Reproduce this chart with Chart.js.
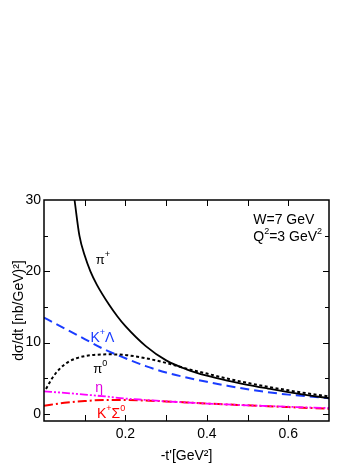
<!DOCTYPE html>
<html>
<head>
<meta charset="utf-8">
<script src="https://cdn.jsdelivr.net/npm/chart.js@4"></script>
<style>
  html, body { margin: 0; padding: 0; background: #fff; }
  #wrap { width: 361px; height: 468px; }
</style>
</head>
<body>
<div id="wrap"><canvas id="chart" width="361" height="468"></canvas></div>
<script>
// values, -t' in GeV^2
var tPiPlus = [0.075, 0.087, 0.1, 0.114, 0.13, 0.16, 0.18, 0.2, 0.25, 0.3, 0.35, 0.4, 0.45, 0.5, 0.55, 0.6, 0.65, 0.7];
var piPlus  = [30, 25, 22.2, 20, 18.1, 15.3, 13.7, 12.3, 9.5, 7.5, 6.25, 5.35, 4.65, 4.07, 3.55, 3.05, 2.6, 2.2];

var tPiZero = [0.005, 0.02, 0.04, 0.06, 0.08, 0.1, 0.13, 0.16, 0.2, 0.25, 0.3, 0.35, 0.4, 0.45, 0.5, 0.55, 0.6, 0.65, 0.7];
var piZero  = [3.5, 5.0, 6.4, 7.3, 7.8, 8.1, 8.3, 8.35, 8.25, 7.8, 7.15, 6.35, 5.65, 4.95, 4.35, 3.8, 3.3, 2.85, 2.45];

var tGrid   = [0, 0.05, 0.1, 0.15, 0.2, 0.25, 0.3, 0.35, 0.4, 0.45, 0.5, 0.55, 0.6, 0.65, 0.7];
var kLambda = [13.5, 12.0, 10.5, 9.0, 7.8, 6.7, 5.8, 5.1, 4.5, 3.95, 3.45, 3.05, 2.7, 2.45, 2.2];
var eta     = [3.15, 2.95, 2.7, 2.45, 2.15, 1.95, 1.75, 1.6, 1.45, 1.32, 1.2, 1.1, 1.0, 0.9, 0.82];
var kSigma  = [1.15, 1.55, 1.8, 1.95, 1.95, 1.87, 1.75, 1.6, 1.45, 1.32, 1.2, 1.07, 0.95, 0.83, 0.72];

var xLabelled = [0.2, 0.4, 0.6];
var xMarks = [0.1, 0.2, 0.3, 0.4, 0.5, 0.6];
var yLabelled = [0, 10, 20, 30];
var yMarks = [0, 5, 10, 15, 20, 25];

var FONT = 'Liberation Sans, Arial, Helvetica, sans-serif';

function pts(xs, ys) {
    return xs.map(function (x, i) { return {x: x, y: ys[i]}; });
}

function series(label, xs, ys, color, dash, width) {
    return {
        label: label,
        data: pts(xs, ys),
        borderColor: color,
        borderWidth: width,
        borderDash: dash,
        pointRadius: 0,
        fill: false,
        cubicInterpolationMode: 'monotone'
    };
}

// curve labels, placed in data coordinates (left edge, baseline)
var curveLabels = [
    {t: 0.127, v: 21.0, color: '#000', parts: [['π', 13], ['+', 9, true]]},
    {t: 0.114, v: 10.1, color: '#1a3cff', parts: [['K', 14], ['+', 9, true], ['Λ', 14]]},
    {t: 0.121, v: 5.8, color: '#000', parts: [['π', 13], ['0', 9, true]]},
    {t: 0.126, v: 3.0, color: '#e000e0', parts: [['η', 14]]},
    {t: 0.13, v: -0.6, color: '#ff0000', parts: [['K', 14], ['+', 9, true], ['Σ', 14], ['0', 9, true]]},
    {t: 0.514, v: 26.7, color: '#000', parts: [['W=7 GeV', 14]]},
    {t: 0.514, v: 24.2, color: '#000', parts: [['Q', 14], ['2', 9, true], ['=3 GeV', 14], ['2', 9, true]]}
];

function drawRich(ctx, x, y, parts, color) {
    ctx.fillStyle = color;
    ctx.textBaseline = 'alphabetic';
    ctx.textAlign = 'left';
    parts.forEach(function (p) {
        ctx.font = p[1] + 'px ' + FONT;
        var dy = p[2] ? -7 : 0;
        ctx.fillText(p[0], x, y + dy);
        x += ctx.measureText(p[0]).width;
    });
}

var frameTicks = {
    id: 'frameTicks',
    afterDatasetsDraw: function (chart) {
        var ctx = chart.ctx;
        var a = chart.chartArea;
        var xs = chart.scales.x;
        var ys = chart.scales.y;
        ctx.save();
        ctx.strokeStyle = '#000';
        ctx.lineWidth = 1.5;
        ctx.strokeRect(a.left, a.top, a.right - a.left, a.bottom - a.top);
        ctx.lineWidth = 1;
        ctx.beginPath();
        xMarks.forEach(function (v) {
            var px = Math.round(xs.getPixelForValue(v)) + 0.5;
            ctx.moveTo(px, a.bottom); ctx.lineTo(px, a.bottom - 6);
            ctx.moveTo(px, a.top); ctx.lineTo(px, a.top + 6);
        });
        yMarks.forEach(function (v) {
            var py = Math.round(ys.getPixelForValue(v)) + 0.5;
            var len = v % 10 === 0 ? 6 : 4;
            ctx.moveTo(a.left, py); ctx.lineTo(a.left + len, py);
            ctx.moveTo(a.right, py); ctx.lineTo(a.right - len, py);
        });
        ctx.stroke();
        curveLabels.forEach(function (l) {
            drawRich(ctx, xs.getPixelForValue(l.t), ys.getPixelForValue(l.v), l.parts, l.color);
        });
        ctx.restore();
    }
};

new Chart(document.getElementById('chart'), {
    type: 'line',
    data: {
        datasets: [
            series('π+', tPiPlus, piPlus, '#000', [], 1.8),
            series('π0', tPiZero, piZero, '#000', [3, 2.5], 2),
            series('K+Λ', tGrid, kLambda, '#1a3cff', [9, 5], 2),
            series('η', tGrid, eta, '#ff00ff', [8, 2, 2, 2, 2, 2], 1.8),
            series('K+Σ0', tGrid, kSigma, '#ff0000', [9, 3, 2, 3], 2)
        ]
    },
    options: {
        responsive: false,
        animation: false,
        layout: {padding: {top: 200, right: 32, left: 0, bottom: 0}},
        plugins: {legend: {display: false}, tooltip: {enabled: false}},
        scales: {
            x: {
                type: 'linear',
                min: 0,
                max: 0.7,
                afterFit: function (s) { s.height = 47; },
                afterBuildTicks: function (s) { s.ticks = xLabelled.map(function (v) { return {value: v}; }); },
                grid: {display: false, drawTicks: false},
                border: {display: false},
                ticks: {
                    padding: 5,
                    color: '#000',
                    font: {family: FONT, size: 14},
                    callback: function (v) { return v.toFixed(1); }
                },
                title: {
                    display: true,
                    text: "-t'[GeV²]",
                    color: '#000',
                    font: {family: FONT, size: 14},
                    padding: {top: 0, bottom: 3}
                }
            },
            y: {
                type: 'linear',
                min: -1,
                max: 30,
                afterFit: function (s) { s.width = 44; },
                afterBuildTicks: function (s) { s.ticks = yLabelled.map(function (v) { return {value: v}; }); },
                grid: {display: false, drawTicks: false},
                border: {display: false},
                ticks: {
                    padding: 3,
                    color: '#000',
                    font: {family: FONT, size: 14},
                    callback: function (v) { return String(v); }
                },
                title: {
                    display: true,
                    text: 'dσ/dt [nb/GeV)²]',
                    color: '#000',
                    font: {family: FONT, size: 14},
                    padding: {top: 11, bottom: 0}
                }
            }
        }
    },
    plugins: [frameTicks]
});
</script>
</body>
</html>
